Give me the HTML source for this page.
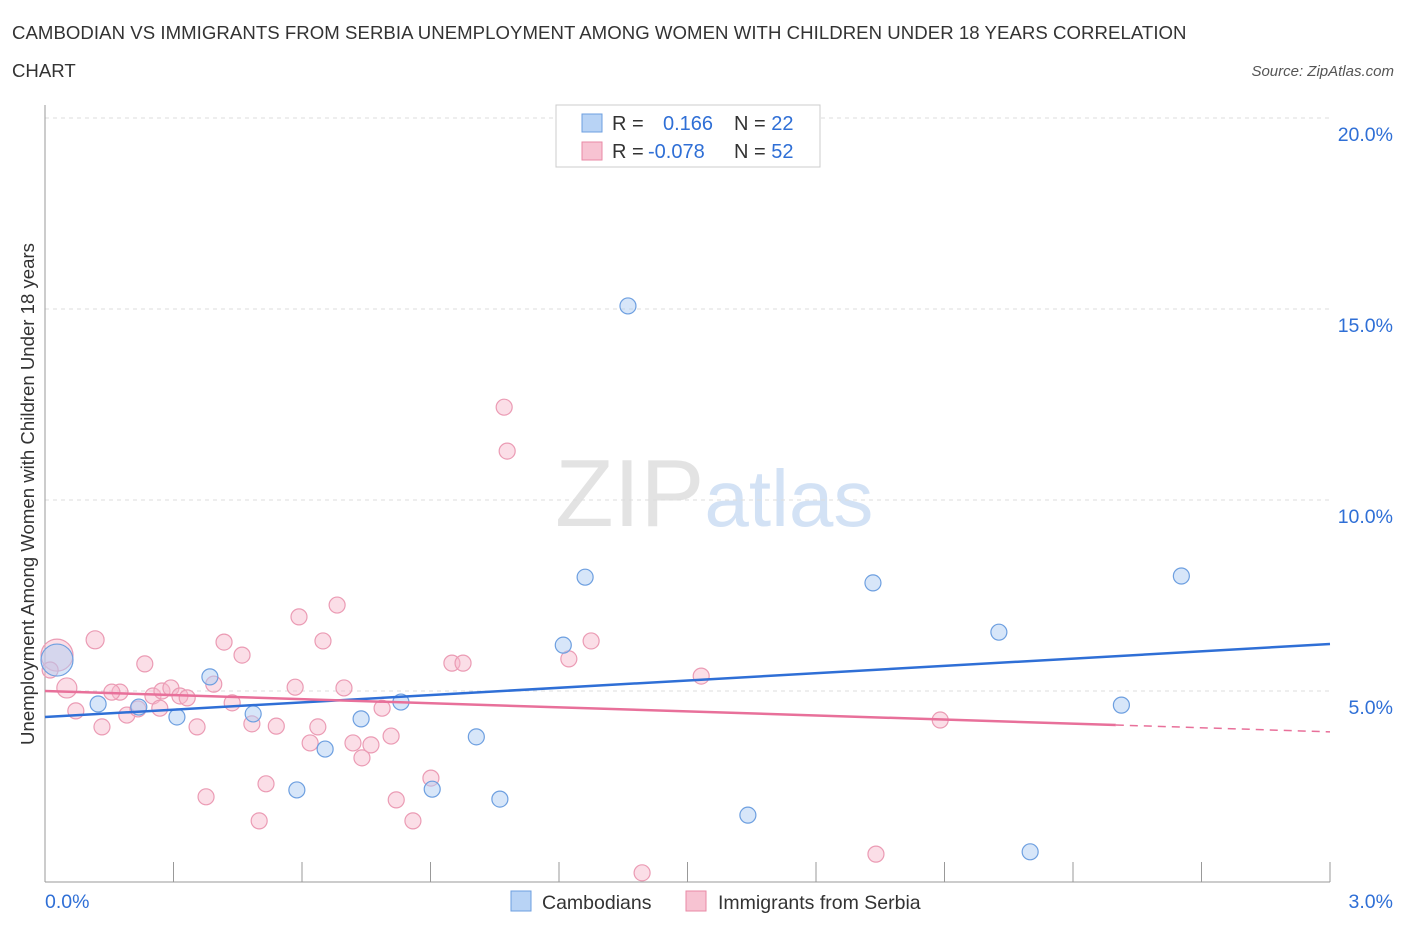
<!DOCTYPE html>
<html><head><meta charset="utf-8"><style>
body{margin:0;background:#fff;font-family:"Liberation Sans",sans-serif;}
svg text{font-family:"Liberation Sans",sans-serif;}
</style></head><body>
<svg id="chart" width="1406" height="930" xmlns="http://www.w3.org/2000/svg">
<text x="12" y="39" font-size="18.6" fill="#333" letter-spacing="0.05">CAMBODIAN VS IMMIGRANTS FROM SERBIA UNEMPLOYMENT AMONG WOMEN WITH CHILDREN UNDER 18 YEARS CORRELATION</text>
<text x="12" y="77" font-size="18.6" fill="#333">CHART</text>
<text x="1394" y="76" font-size="15" fill="#555" text-anchor="end" font-style="italic">Source: ZipAtlas.com</text>
<text x="555" y="526" font-size="96" fill="#ddd" font-family="Liberation Serif" opacity="0.8">ZIP<tspan fill="#c9dcf3" font-family="Liberation Sans" font-size="80">atlas</tspan></text>
<g id="grid"></g><g id="axes"></g><g id="marks"></g>
<g>
<rect x="556" y="105" width="264" height="62" fill="#fff" stroke="#ccc"/>
<rect x="582" y="114" width="20" height="18" fill="#b8d3f5" stroke="#6d9fe0"/>
<rect x="582" y="142" width="20" height="18" fill="#f7c3d2" stroke="#e88aa6"/>
<text x="612" y="130" font-size="20" fill="#333">R = <tspan fill="#2f6fd6" x="663">0.166</tspan><tspan x="734" fill="#333">N = </tspan><tspan fill="#2f6fd6">22</tspan></text>
<text x="612" y="158" font-size="20" fill="#333">R = <tspan fill="#2f6fd6" x="648">-0.078</tspan><tspan x="734" fill="#333">N = </tspan><tspan fill="#2f6fd6">52</tspan></text>
</g>
<g>
<rect x="511" y="891" width="20" height="20" fill="#b8d3f5" stroke="#6d9fe0"/>
<text x="542" y="909" font-size="19.5" fill="#333">Cambodians</text>
<rect x="686" y="891" width="20" height="20" fill="#f7c3d2" stroke="#e88aa6"/>
<text x="718" y="909" font-size="19.5" fill="#333">Immigrants from Serbia</text>
</g>
<text transform="translate(34,494) rotate(-90)" font-size="18.6" fill="#333" text-anchor="middle">Unemployment Among Women with Children Under 18 years</text>
</svg>
<script>
const blueX=[0.028,0.124,0.219,0.308,0.385,0.486,0.588,0.654,0.738,0.831,0.904,1.007,1.062,1.210,1.261,1.361,1.641,1.933,2.227,2.300,2.513,2.653];
const blueY=[5.81,4.66,4.58,4.32,5.37,4.40,2.41,3.48,4.27,4.71,2.43,3.80,2.17,6.20,7.98,15.08,1.75,7.83,6.54,0.79,4.63,8.01];
const pinkX=[0.028,0.051,0.072,0.117,0.133,0.175,0.191,0.217,0.233,0.252,0.273,0.294,0.315,0.332,0.355,0.376,0.394,0.418,0.437,0.460,0.483,0.500,0.516,0.540,0.584,0.593,0.619,0.637,0.649,0.682,0.698,0.719,0.740,0.761,0.787,0.808,0.820,0.859,0.901,0.950,0.976,1.072,1.079,1.223,1.275,1.394,1.532,1.940,2.090,0.012,0.156,0.268];
const pinkY=[5.94,5.08,4.48,6.34,4.06,4.97,4.37,4.53,5.71,4.87,5.00,5.08,4.87,4.82,4.06,2.23,5.18,6.28,4.69,5.94,4.14,1.60,2.57,4.08,5.10,6.94,3.64,4.06,6.31,7.25,5.08,3.64,3.25,3.59,4.55,3.82,2.15,1.60,2.72,5.73,5.73,12.43,11.28,5.84,6.31,0.24,5.39,0.73,4.24,5.55,4.97,4.55];
const blueSize=[16,8,8,8,8,8,8,8,8,8,8,8,8,8,8,8,8,8,8,8,8,8];
const pinkSize=[16,10,8,9,8,8,8,8,8,8,8,8,8,8,8,8,8,8,8,8,8,8,8,8,8,8,8,8,8,8,8,8,8,8,8,8,8,8,8,8,8,8,8,8,8,8,8,8,8,8,8,8];
const blueTrend=[4.32,6.23];
const pinkTrend=[5.00,4.11,3.93];
const yTicks=[5,10,15,20];
const yTickLabels=["5.0%","10.0%","15.0%","20.0%"];
const NS="http://www.w3.org/2000/svg";
const sx=v=>45+v*428.33, sy=v=>882-v*38.2;
function mk(t,a,p){const e=document.createElementNS(NS,t);for(const k in a)e.setAttribute(k,a[k]);p.appendChild(e);return e;}
const grid=document.getElementById('grid'),axes=document.getElementById('axes'),marks=document.getElementById('marks');
yTicks.forEach((t,i)=>{
 const l=mk('line',{x1:45,x2:1330,y1:sy(t),y2:sy(t),stroke:'#ddd','stroke-dasharray':'4,4'},grid);
 
 const tx=mk('text',{x:1393,y:sy(t)+23,'font-size':19.5,fill:'#2f6fd6','text-anchor':'end'},axes);
 tx.textContent=yTickLabels[i];
 
});
let a=mk('line',{x1:45,x2:45,y1:105,y2:882,stroke:'#999'},axes);

a=mk('line',{x1:45,x2:1330,y1:882,y2:882,stroke:'#999'},axes);

for(let k=1;k<=10;k++){const t=mk('line',{x1:sx(k*0.3),x2:sx(k*0.3),y1:862,y2:882,stroke:'#999'},axes);
 }
let t0=mk('text',{x:45,y:908,'font-size':19.5,fill:'#2f6fd6'},axes);t0.textContent='0.0%';

t0=mk('text',{x:1393,y:908,'font-size':19.5,fill:'#2f6fd6','text-anchor':'end'},axes);t0.textContent='3.0%';

pinkX.forEach((x,i)=>{const c=mk('circle',{cx:sx(x),cy:sy(pinkY[i]),r:pinkSize[i],fill:'rgba(246,182,202,0.45)',stroke:'#eb9bb4','stroke-width':1.2},marks);
 });
blueX.forEach((x,i)=>{const c=mk('circle',{cx:sx(x),cy:sy(blueY[i]),r:blueSize[i],fill:'rgba(176,205,243,0.5)',stroke:'#6d9fe0','stroke-width':1.2},marks);
 });
let L=mk('line',{x1:sx(0),y1:sy(blueTrend[0]),x2:sx(3),y2:sy(blueTrend[1]),stroke:'#2f6fd6','stroke-width':2.5},marks);

L=mk('line',{x1:sx(0),y1:sy(pinkTrend[0]),x2:sx(2.5),y2:sy(pinkTrend[1]),stroke:'#e8709a','stroke-width':2.5},marks);

L=mk('line',{x1:sx(2.5),y1:sy(pinkTrend[1]),x2:sx(3),y2:sy(pinkTrend[2]),stroke:'#e8709a','stroke-width':1.5,'stroke-dasharray':'8,6'},marks);

</script>
</body></html>
